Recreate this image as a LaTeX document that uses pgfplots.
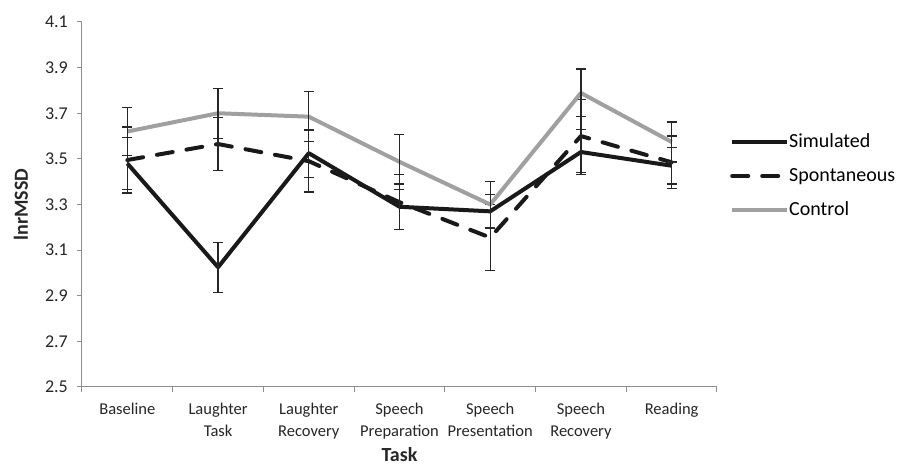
\documentclass[border=0pt]{standalone}
\usepackage{fontspec}
\setmainfont{Carlito}
\usepackage{pgfplots}
\pgfplotsset{compat=1.18}
\definecolor{ctrl}{RGB}{160,160,160}
\definecolor{axgray}{RGB}{140,140,140}
\begin{document}
\begin{tikzpicture}
\useasboundingbox (0,0) rectangle (906pt,466pt);
\begin{axis}[
  at={(82pt,79pt)}, anchor=south west,
  width=635pt, height=365pt, scale only axis,
  xmin=-0.5, xmax=6.5, ymin=2.5, ymax=4.1,
  axis x line*=bottom, axis y line*=left,
  axis line style={axgray, line width=1pt},
  xtick={0,...,6},
  xticklabels={Baseline, Laughter\\Task, Laughter\\Recovery, Speech\\Preparation, Speech\\Presentation, Speech\\Recovery, Reading},
  minor xtick={-0.5,0.5,1.5,2.5,3.5,4.5,5.5,6.5},
  major x tick style={draw=none},
  minor x tick style={axgray, line width=1pt},
  minor tick length=5pt,
  ytick={2.5,2.7,...,4.15},
  y tick style={axgray, line width=1pt},
  major tick length=5pt,
  tick align=outside,
  yticklabel style={/pgf/number format/fixed, /pgf/number format/fixed zerofill, /pgf/number format/precision=1},
  /pgf/number format/assume math mode=true,
  xticklabel style={font=\fontsize{16.5}{22}\selectfont, text=black!85, align=center, inner sep=0pt, yshift=-11pt},
  yticklabel style={font=\fontsize{18}{22}\selectfont, text=black!85, inner sep=0pt, xshift=-9pt},
  xlabel={Task}, ylabel={lnrMSSD},
  label style={font=\bfseries\fontsize{20}{24}\selectfont, text=black!85},
  xlabel style={at={(axis description cs:0.5,0)}, anchor=center, yshift=-68pt},
  ylabel style={at={(axis description cs:0,0.5)}, anchor=center, yshift=61pt},
  legend style={at={(1.0205,0.578)}, anchor=west, draw=none, fill=none, inner sep=0pt,
     font=\fontsize{20}{24}\selectfont, row sep=16pt,
     nodes={inner sep=0pt, text height=14pt, text depth=4pt, anchor=west},
     /tikz/column 2/.style={column sep=10pt}},
  legend cell align=left,
  legend image code/.code={\draw[#1] (0pt,0pt) -- (55pt,0pt);},
  error bars/y dir=both, error bars/y explicit,
  error bars/error bar style={line width=1.2pt, black!85, solid},
  error bars/error mark options={rotate=90, mark size=5pt, line width=1.2pt, black!85, solid},
]
\addplot[black!90, line width=4pt, line join=round] coordinates {
 (0,3.48) +- (0,0.115)
 (1,3.025) +- (0,0.11)
 (2,3.525) +- (0,0.105)
 (3,3.29) +- (0,0.10)
 (4,3.27) +- (0,0.075)
 (5,3.53) +- (0,0.10)
 (6,3.47) +- (0,0.08)
};
\addlegendentry{Simulated}
\addplot[black!90, line width=4pt, dash pattern=on 16pt off 14pt, line cap=round, line join=round] coordinates {
 (0,3.495) +- (0,0.145)
 (1,3.565) +- (0,0.115)
 (2,3.49) +- (0,0.135)
 (3,3.31) +- (0,0.12)
 (4,3.155) +- (0,0.145)
 (5,3.60) +- (0,0.16)
 (6,3.485) +- (0,0.115)
};
\addlegendentry{Spontaneous}
\addplot[ctrl, line width=4pt, line join=round] coordinates {
 (0,3.62) +- (0,0.105)
 (1,3.70) +- (0,0.11)
 (2,3.685) +- (0,0.11)
 (3,3.487) +- (0,0.12)
 (4,3.30) +- (0,0.10)
 (5,3.789) +- (0,0.105)
 (6,3.574) +- (0,0.088)
};
\addlegendentry{Control}
\end{axis}
\end{tikzpicture}
\end{document}
